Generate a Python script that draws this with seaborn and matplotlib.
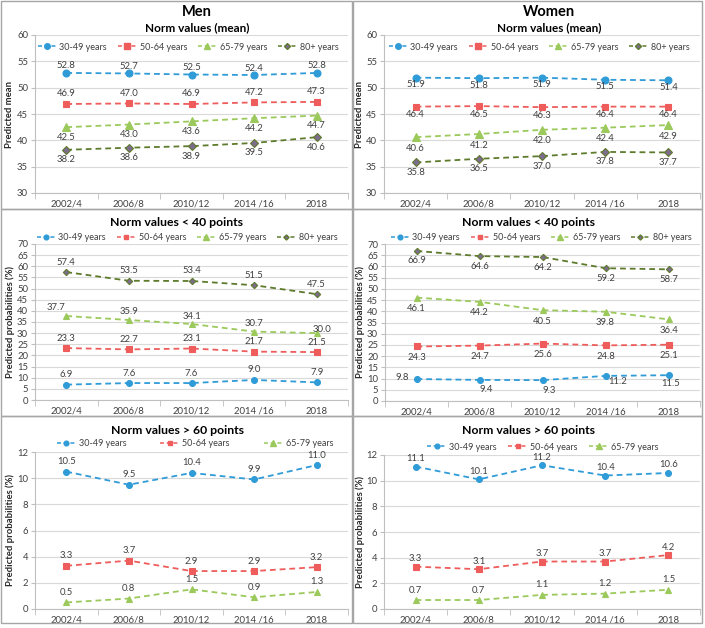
import numpy as np
import pandas as pd
import matplotlib
matplotlib.use("Agg")
import matplotlib.pyplot as plt
from matplotlib.patches import Rectangle
from matplotlib.lines import Line2D
import seaborn as sns

# ---------------- data ----------------
periods = ["2002/4", "2006/8", "2010/12", "2014 /16", "2018"]
groups4 = ["30-49 years", "50-64 years", "65-79 years", "80+ years"]
groups3 = ["30-49 years", "50-64 years", "65-79 years"]

men_mean_3049 = [52.8, 52.7, 52.5, 52.4, 52.8]
men_mean_5064 = [46.9, 47.0, 46.9, 47.2, 47.3]
men_mean_6579 = [42.5, 43.0, 43.6, 44.2, 44.7]
men_mean_80 = [38.2, 38.6, 38.9, 39.5, 40.6]

women_mean_3049 = [51.9, 51.8, 51.9, 51.5, 51.4]
women_mean_5064 = [46.4, 46.5, 46.3, 46.4, 46.4]
women_mean_6579 = [40.6, 41.2, 42.0, 42.4, 42.9]
women_mean_80 = [35.8, 36.5, 37.0, 37.8, 37.7]

men_lt40_3049 = [6.9, 7.6, 7.6, 9.0, 7.9]
men_lt40_5064 = [23.3, 22.7, 23.1, 21.7, 21.5]
men_lt40_6579 = [37.7, 35.9, 34.1, 30.7, 30.0]
men_lt40_80 = [57.4, 53.5, 53.4, 51.5, 47.5]

women_lt40_3049 = [9.8, 9.4, 9.3, 11.2, 11.5]
women_lt40_5064 = [24.3, 24.7, 25.6, 24.8, 25.1]
women_lt40_6579 = [46.1, 44.2, 40.5, 39.8, 36.4]
women_lt40_80 = [66.9, 64.6, 64.2, 59.2, 58.7]

men_gt60_3049 = [10.5, 9.5, 10.4, 9.9, 11.0]
men_gt60_5064 = [3.3, 3.7, 2.9, 2.9, 3.2]
men_gt60_6579 = [0.5, 0.8, 1.5, 0.9, 1.3]

women_gt60_3049 = [11.1, 10.1, 11.2, 10.4, 10.6]
women_gt60_5064 = [3.3, 3.1, 3.7, 3.7, 4.2]
women_gt60_6579 = [0.7, 0.7, 1.1, 1.2, 1.5]

# ---------------- style ----------------
sns.set_style("white")
plt.rcParams["font.family"] = ["Lato", "DejaVu Sans"]

W, H = 705, 628
fig = plt.figure(figsize=(W / 100, H / 100), dpi=100)

COLORS = {"30-49 years": "#2F9BD7", "50-64 years": "#EE5C5C",
          "65-79 years": "#9BC95B", "80+ years": "#5E7B2C"}
MARKERS = {"30-49 years": "o", "50-64 years": "s", "65-79 years": "^", "80+ years": "D"}
MFACE = {"30-49 years": "#2F9BD7", "50-64 years": "#EE5C5C",
         "65-79 years": "#9BC95B", "80+ years": "#7E6B90"}
MSIZE = {"30-49 years": 5, "50-64 years": 5, "65-79 years": 5.5, "80+ years": 3.8}
TXT = "#404040"
GRID = "#D9D9D9"
SPINE = "#BFBFBF"


def add_axes_px(l, t, r, b):
    return fig.add_axes([l / W, 1 - b / H, (r - l) / W, (b - t) / H])


def panel_border(l, t, r, b):
    fig.patches.append(Rectangle((l / W, 1 - b / H), (r - l) / W, (b - t) / H,
                                 transform=fig.transFigure, fill=False,
                                 edgecolor="#A6A6A6", linewidth=1.0))


def draw_panel(ax, series, names, ylim, yticks, offsets, overrides, msize_scale=1.0):
    for vals, name in zip(series, names):
        df = pd.DataFrame({"pos": np.arange(len(periods)), "value": vals})
        sns.lineplot(data=df, x="pos", y="value", ax=ax, color=COLORS[name],
                     linestyle=(0, (3.2, 2.2)), linewidth=1.3,
                     marker=MARKERS[name], markersize=MSIZE[name] * msize_scale,
                     markerfacecolor=MFACE[name], markeredgecolor=COLORS[name],
                     markeredgewidth=0.8, legend=False)
        dx, dy = offsets[name]
        for i, v in enumerate(vals):
            ddx, ddy = overrides.get((name, i), (dx, dy))
            ax.annotate(f"{v:.1f}", (i, v), xytext=(ddx, ddy),
                        textcoords="offset pixels", ha="center", va="center",
                        fontsize=6.8, color=TXT)
    ax.set_xlim(-0.5, len(periods) - 0.5)
    ax.set_ylim(*ylim)
    ax.set_yticks(yticks)
    ax.set_yticklabels([str(t) for t in yticks])
    ax.set_xticks(np.arange(len(periods)))
    ax.set_xticklabels(periods)
    ax.set_xticks(np.arange(-0.5, len(periods)), minor=True)
    ax.set_xlabel("")
    ax.set_ylabel("")
    ax.grid(axis="y", color=GRID, linewidth=0.8)
    ax.grid(axis="x", visible=False)
    ax.set_axisbelow(True)
    for s in ["top", "right"]:
        ax.spines[s].set_visible(False)
    for s in ["left", "bottom"]:
        ax.spines[s].set_color(SPINE)
        ax.spines[s].set_linewidth(0.8)
    ax.tick_params(axis="y", length=3, color=SPINE, labelsize=6.8, labelcolor=TXT, pad=2, left=True)
    ax.tick_params(axis="x", which="major", length=0, labelsize=6.8, labelcolor=TXT, pad=5)
    ax.tick_params(axis="x", which="minor", length=4, color=SPINE, bottom=True)


def add_legend(ax, names, cx, cy, colsp, msize_scale=1.0):
    handles = [Line2D([0], [0], color=COLORS[n], linestyle=(0, (2.6, 1.8)), linewidth=1.1,
                      marker=MARKERS[n], markersize=MSIZE[n] * msize_scale * 0.8,
                      markerfacecolor=MFACE[n], markeredgecolor=COLORS[n])
               for n in names]
    leg = ax.legend(handles, names, loc="center", ncol=len(names), frameon=False,
                    bbox_to_anchor=(cx / W, 1 - cy / H), bbox_transform=fig.transFigure,
                    fontsize=6.5, handlelength=2.1, handletextpad=0.3,
                    columnspacing=colsp, borderaxespad=0, borderpad=0)
    for t in leg.get_texts():
        t.set_color(TXT)


def ylabel(x, y, s):
    fig.text(x / W, 1 - y / H, s, rotation=90, ha="center", va="center",
             fontsize=6.8, fontweight="bold", color="#262626")


# panel borders
panel_border(1, 1, 352, 209)
panel_border(353, 1, 702, 209)
panel_border(1, 209, 352, 416)
panel_border(353, 209, 702, 416)
panel_border(1, 416, 352, 623)
panel_border(353, 416, 702, 623)

# ---- top-left: Men mean
ax = add_axes_px(35, 35, 348, 193)
draw_panel(ax, [men_mean_3049, men_mean_5064, men_mean_6579, men_mean_80], groups4,
           (30, 60), [30, 35, 40, 45, 50, 55, 60],
           {"30-49 years": (0, 7), "50-64 years": (0, 10),
            "65-79 years": (0, -10), "80+ years": (0, -10)}, {})
add_legend(ax, groups4, 188, 47, 1.2)
fig.text(197 / W, 1 - 12 / H, "Men", ha="center", va="center", fontsize=10.5,
         fontweight="bold", color="black")
fig.text(197 / W, 1 - 28 / H, "Norm values (mean)", ha="center", va="center",
         fontsize=8.5, fontweight="bold", color="black")
ylabel(10, 114, "Predicted mean")

# ---- top-right: Women mean
ax = add_axes_px(384, 35, 700, 193)
draw_panel(ax, [women_mean_3049, women_mean_5064, women_mean_6579, women_mean_80], groups4,
           (30, 60), [30, 35, 40, 45, 50, 55, 60],
           {"30-49 years": (0, -7), "50-64 years": (0, -8),
            "65-79 years": (0, -11), "80+ years": (0, -10)}, {})
add_legend(ax, groups4, 539, 47, 1.2)
fig.text(549 / W, 1 - 12 / H, "Women", ha="center", va="center", fontsize=10.5,
         fontweight="bold", color="black")
fig.text(549 / W, 1 - 28 / H, "Norm values (mean)", ha="center", va="center",
         fontsize=8.5, fontweight="bold", color="black")
ylabel(360, 114, "Predicted mean")

# ---- middle-left: Men < 40
ax = add_axes_px(35, 244, 348, 400)
draw_panel(ax, [men_lt40_3049, men_lt40_5064, men_lt40_6579, men_lt40_80], groups4,
           (0, 70), list(range(0, 71, 5)),
           {"30-49 years": (0, 10), "50-64 years": (0, 10),
            "65-79 years": (0, 8), "80+ years": (0, 10)},
           {("65-79 years", 0): (-10, 8), ("65-79 years", 4): (5, 4)}, msize_scale=0.85)
add_legend(ax, groups4, 187, 238, 1.2, msize_scale=0.85)
fig.text(177 / W, 1 - 223 / H, "Norm values < 40 points", ha="center", va="center",
         fontsize=8.8, fontweight="bold", color="black")
ylabel(10, 322, "Predicted probabilities (%)")

# ---- middle-right: Women < 40
ax = add_axes_px(385, 244, 700, 401)
draw_panel(ax, [women_lt40_3049, women_lt40_5064, women_lt40_6579, women_lt40_80], groups4,
           (0, 70), list(range(0, 71, 5)),
           {"30-49 years": (7, -10), "50-64 years": (0, -11),
            "65-79 years": (0, -11), "80+ years": (0, -10)},
           {("30-49 years", 0): (-14, 2), ("30-49 years", 3): (12, -6),
            ("30-49 years", 4): (2, -8)}, msize_scale=0.85)
add_legend(ax, groups4, 541, 238, 1.2, msize_scale=0.85)
fig.text(529 / W, 1 - 223 / H, "Norm values < 40 points", ha="center", va="center",
         fontsize=8.8, fontweight="bold", color="black")
ylabel(360, 322, "Predicted probabilities (%)")

# ---- bottom-left: Men > 60
ax = add_axes_px(35, 452, 348, 609)
draw_panel(ax, [men_gt60_3049, men_gt60_5064, men_gt60_6579], groups3,
           (0, 12), [0, 2, 4, 6, 8, 10, 12],
           {"30-49 years": (0, 10), "50-64 years": (0, 10), "65-79 years": (0, 10)},
           {}, msize_scale=0.85)
add_legend(ax, groups3, 195, 444, 3.8, msize_scale=0.85)
fig.text(178 / W, 1 - 431 / H, "Norm values > 60 points", ha="center", va="center",
         fontsize=8.8, fontweight="bold", color="black")
ylabel(10, 530, "Predicted probabilities (%)")

# ---- bottom-right: Women > 60
ax = add_axes_px(384, 455, 700, 609)
draw_panel(ax, [women_gt60_3049, women_gt60_5064, women_gt60_6579], groups3,
           (0, 12), [0, 2, 4, 6, 8, 10, 12],
           {"30-49 years": (0, 8), "50-64 years": (0, 8), "65-79 years": (0, 10)},
           {}, msize_scale=0.85)
add_legend(ax, groups3, 543, 447, 1.3, msize_scale=0.85)
fig.text(528 / W, 1 - 431 / H, "Norm values > 60 points", ha="center", va="center",
         fontsize=8.8, fontweight="bold", color="black")
ylabel(360, 532, "Predicted probabilities (%)")

fig.savefig("out.png", dpi=100, facecolor="white")
